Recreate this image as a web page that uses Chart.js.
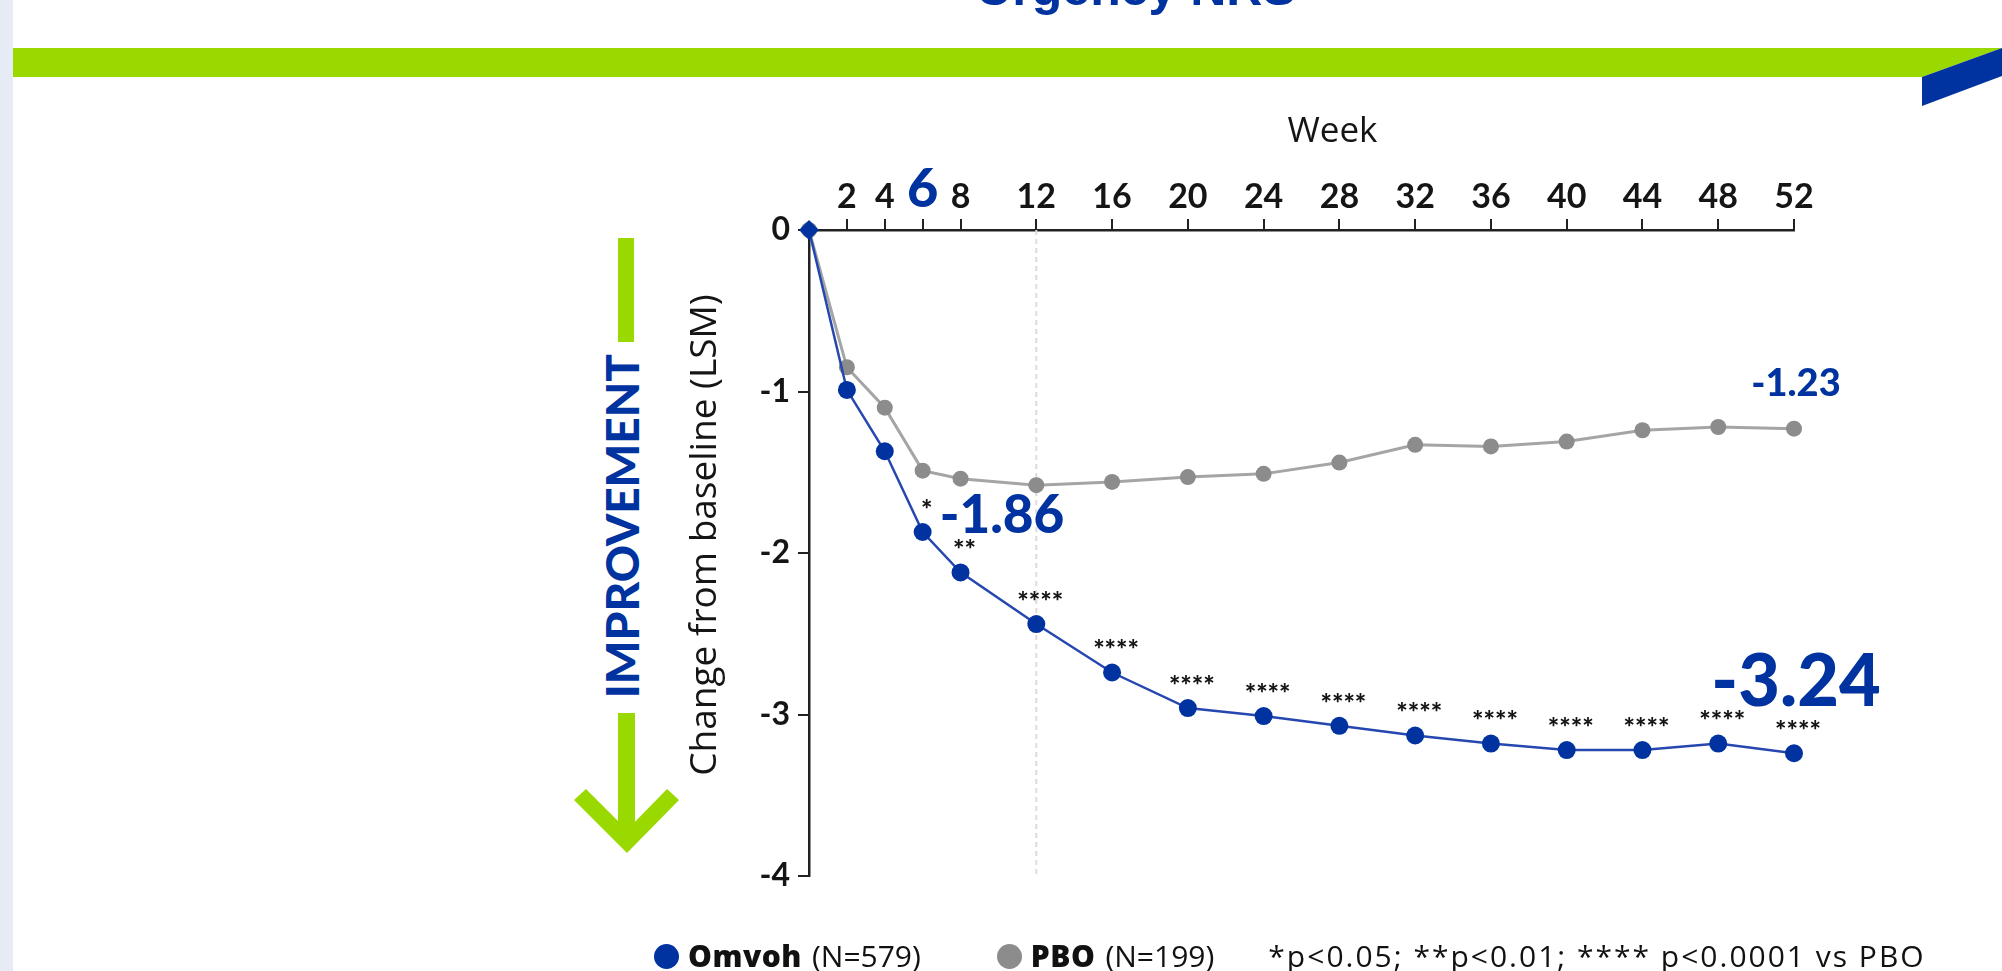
<!DOCTYPE html>
<html>
<head>
<meta charset="utf-8">
<title>Urgency NRS - change from baseline</title>
<script src="https://cdn.jsdelivr.net/npm/chart.js@4.4.1/dist/chart.umd.min.js"></script>
<style>
  html, body { margin: 0; padding: 0; background: #fff; }
  body { width: 2002px; height: 971px; position: relative; overflow: hidden; font-family: 'Open Sans', sans-serif; }
  .side { position: absolute; left: 0; top: 0; width: 13px; height: 971px; background: #e7ebf6; }
  .page-title { position: absolute; left: 836px; top: -37px; width: 600px; text-align: center;
    font: bold 50px/50px 'Liberation Sans Narrow', sans-serif; color: #0033a0; }
  .deco { position: absolute; left: 0; top: 0; }
  .improvement { position: absolute; left: 622px; top: 526px; transform: translate(-50%, -50%) rotate(-90deg);
    font: 900 46px 'Lato', sans-serif; color: #0033a0; white-space: nowrap; line-height: 1; }
  #chartBox { position: absolute; left: 0; top: 0; width: 2002px; height: 971px; }
  .legend { position: absolute; left: 654px; top: 936px; display: flex; align-items: center;
    font-size: 30px; line-height: 40px; color: #111; white-space: nowrap; }
  .legend .dot { display: inline-block; width: 25px; height: 25px; border-radius: 50%; margin-right: 9px; }
  .legend b { font-weight: 800; margin-right: 10px; letter-spacing: 0.5px; }
  .legend .item + .item { margin-left: 76px; }
  .legend .note { margin-left: 54px; letter-spacing: 2px; }
  .legend .item { display: flex; align-items: center; }
</style>
</head>
<body>
<div class="side"></div>
<div class="page-title">Urgency NRS</div>

<svg class="deco" width="2002" height="971">
  <polygon points="13,48 2002,48 1922,77 13,77" fill="#99d900"/>
  <polygon points="1922,77 2002,48 2002,76 1922,106" fill="#0033a0"/>
  <!-- improvement arrow -->
  <rect x="618" y="238" width="16" height="104" fill="#99d900"/>
  <rect x="618" y="713" width="17" height="125" fill="#99d900"/>
  <polygon points="574,800 586,789 627,830 667,789 679,800 627,853" fill="#99d900"/>
</svg>
<div class="improvement">IMPROVEMENT</div>

<div id="chartBox"><canvas id="chart"></canvas></div>
<div class="legend" id="legend"></div>

<script>
// data
const weeks = [0, 2, 4, 6, 8, 12, 16, 20, 24, 28, 32, 36, 40, 44, 48, 52];
const omvohValues = [0, -0.99, -1.37, -1.87, -2.12, -2.44, -2.74, -2.96, -3.01, -3.07, -3.13, -3.18, -3.22, -3.22, -3.18, -3.24];
const pboValues = [0, -0.85, -1.10, -1.49, -1.54, -1.58, -1.56, -1.53, -1.51, -1.44, -1.33, -1.34, -1.31, -1.24, -1.22, -1.23];
const sigMarks = ['', '', '', '*', '**', '****', '****', '****', '****', '****', '****', '****', '****', '****', '****', '****'];
const weekTicks = [2, 4, 6, 8, 12, 16, 20, 24, 28, 32, 36, 40, 44, 48, 52];
const yTicks = [0, -1, -2, -3, -4];
const highlightWeek = 6;
const refLineWeek = 12;
const seriesNames = ['Omvoh', 'PBO'];
const seriesN = [579, 199];
const footnote = '*p<0.05; **p<0.01; **** p<0.0001 vs PBO';

const BLUE = '#0033a0';
const GREY = '#8c8c8c';
const INK = '#151515';

// callout labels: which series, which point, text
const callouts = [
    { series: 0, index: 3, text: '-1.86', size: 53 },
    { series: 1, index: 15, text: '-1.23', size: 38 },
    { series: 0, index: 15, text: '-3.24', size: 72 }
];

const toPoints = vals => weeks.map((w, i) => ({ x: w, y: vals[i] }));

// Build the legend from the series arrays
const legend = document.getElementById('legend');
[BLUE, GREY].forEach((c, i) => {
    const item = document.createElement('span');
    item.className = 'item';
    item.innerHTML = `<span class="dot" style="background:${c}"></span><b>${seriesNames[i]}</b>(N=${seriesN[i]})`;
    legend.appendChild(item);
});
const note = document.createElement('span');
note.className = 'note';
note.textContent = footnote;
legend.appendChild(note);

// Extra drawing: dashed week-12 line, significance stars, callouts, axis titles
const annotations = {
    id: 'annotations',
    beforeDatasetsDraw(chart) {
        const { ctx, scales: { x, y } } = chart;
        const xp = x.getPixelForValue(refLineWeek);
        ctx.save();
        ctx.strokeStyle = '#dcdcdc';
        ctx.lineWidth = 2;
        ctx.setLineDash([5, 4]);
        ctx.beginPath();
        ctx.moveTo(xp, y.getPixelForValue(0));
        ctx.lineTo(xp, y.getPixelForValue(-4));
        ctx.stroke();
        ctx.restore();
    },
    afterDatasetsDraw(chart) {
        const { ctx, chartArea } = chart;
        ctx.save();
        ctx.textAlign = 'center';
        ctx.textBaseline = 'middle';

        // stars above each Omvoh point
        const meta = chart.getDatasetMeta(0);
        ctx.fillStyle = INK;
        ctx.font = '900 27px Lato';
        meta.data.forEach((pt, i) => {
            if (!sigMarks[i]) return;
            ctx.fillText(sigMarks[i], pt.x + 4, pt.y - 22);
        });

        // big blue value callouts
        ctx.fillStyle = BLUE;
        callouts.forEach(c => {
            const pt = chart.getDatasetMeta(c.series).data[c.index];
            ctx.font = `900 ${c.size}px Lato`;
            if (c.index === 3) {
                ctx.textAlign = 'left';
                ctx.fillText(c.text, pt.x + 17, pt.y - 16);
            } else {
                ctx.textAlign = 'center';
                ctx.fillText(c.text, pt.x + 2, pt.y - (c.size > 50 ? 70 : 45));
            }
        });

        // axis titles
        ctx.fillStyle = INK;
        ctx.textAlign = 'center';
        ctx.font = '35px "Open Sans"';
        ctx.fillText('Week', (chartArea.left + chartArea.right) / 2 + 31, chartArea.top - 98);
        ctx.font = '37px "Open Sans"';
        ctx.translate(chartArea.left - 104, (chartArea.top + chartArea.bottom) / 2 - 18);
        ctx.rotate(-Math.PI / 2);
        ctx.fillText('Change from baseline (LSM)', 0, 0);
        ctx.restore();
    }
};

new Chart(document.getElementById('chart'), {
    type: 'line',
    data: {
        datasets: [
            {
                label: seriesNames[0],
                data: toPoints(omvohValues),
                borderColor: '#2647b0',
                borderWidth: 2.5,
                backgroundColor: BLUE,
                pointBackgroundColor: BLUE,
                pointBorderWidth: 0,
                pointRadius: ctx => ctx.dataIndex === 0 ? 10 : 9,
                pointStyle: ctx => ctx.dataIndex === 0 ? 'rectRot' : 'circle',
                tension: 0,
                clip: false
            },
            {
                label: seriesNames[1],
                data: toPoints(pboValues),
                borderColor: '#a5a5a5',
                borderWidth: 3,
                backgroundColor: GREY,
                pointBackgroundColor: GREY,
                pointBorderWidth: 0,
                pointRadius: 8,
                tension: 0,
                clip: false
            }
        ]
    },
    options: {
        responsive: true,
        maintainAspectRatio: false,
        animation: false,
        layout: { padding: { left: 560, right: 208, top: 100, bottom: 95 } },
        plugins: {
            legend: { display: false },
            tooltip: { enabled: false }
        },
        scales: {
            x: {
                type: 'linear',
                position: 'top',
                min: 0,
                max: 52,
                afterBuildTicks: scale => { scale.ticks = weekTicks.map(v => ({ value: v })); },
                afterFit: scale => { scale.height = 130; },
                border: { color: '#222', width: 2.5 },
                grid: { drawOnChartArea: false, tickLength: 11, color: '#222', lineWidth: 2 },
                ticks: {
                    padding: 2,
                    autoSkip: false,
                    maxRotation: 0,
                    color: ctx => ctx.tick && ctx.tick.value === highlightWeek ? BLUE : INK,
                    font: ctx => ctx.tick && ctx.tick.value === highlightWeek
                        ? { family: 'Lato', size: 54, weight: '900', lineHeight: 1 }
                        : { family: 'Lato', size: 34, weight: 'bold' }
                }
            },
            y: {
                min: -4,
                max: 0,
                afterBuildTicks: scale => { scale.ticks = yTicks.map(v => ({ value: v })); },
                afterFit: scale => { scale.width = 249; },
                border: { color: '#222', width: 2.5 },
                grid: { drawOnChartArea: false, tickLength: 11, color: '#222', lineWidth: 2 },
                ticks: {
                    padding: 8,
                    color: INK,
                    font: { family: 'Lato', size: 32, weight: 'bold' }
                }
            }
        }
    },
    plugins: [annotations]
});
</script>
</body>
</html>
